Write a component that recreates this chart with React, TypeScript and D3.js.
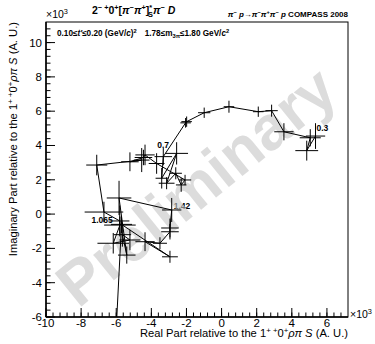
import React from 'react';
import * as d3 from 'd3';

// Argand points (units of 10^3), in order of increasing m(pi pi)
const rePart = [5.35, 4.85, 5.05, 3.55, 2.85, 2.09, 0.42, -0.99, -1.99, -2.05, -3.32, -3.41, -2.56, -3.13, -2.61, -2.3, -2.08, -3.7, -4.36, -4.45, -5.22, -4.55, -7.11, -6.7, -5.8, -5.79, -6.17, -5.22, -5.65, -5.4, -5.84, -2.84, -2.94, -2.94, -3.51, -4.36, -2.94, -5.7, -6.04];
const imPart = [4.55, 3.7, 4.45, 4.8, 6.03, 5.97, 6.26, 5.91, 5.39, 5.32, 3.35, 2.09, 3.54, 1.8, 2.38, 1.7, 1.99, 2.95, 3.45, 3.3, 3.05, 3.15, 2.86, 0.12, -0.4, -0.64, -1.7, -1.51, -1.2, -2.39, 0.94, 0.24, -0.81, -1.03, -1.7, -1.61, -2.49, -0.6, -7.5];
const reErr = [0.55, 0.65, 0.6, 0.55, 0.35, 0.3, 0.3, 0.35, 0.3, 0.3, 0.5, 0.35, 0.65, 0.45, 0.35, 0.3, 0.35, 0.45, 0.55, 0.5, 0.5, 0.45, 0.6, 1.1, 0.55, 0.9, 0.9, 0.6, 0.5, 0.5, 0.7, 0.55, 0.5, 0.5, 0.4, 0.55, 0.45, 0.6, 0.5];
const imErr = [0.75, 0.58, 0.5, 0.5, 0.35, 0.3, 0.35, 0.3, 0.3, 0.28, 0.5, 0.6, 0.65, 0.35, 0.35, 0.4, 0.3, 0.6, 0.6, 0.45, 0.55, 0.7, 0.6, 0.6, 0.9, 0.5, 0.6, 0.6, 0.7, 0.5, 1.0, 0.7, 0.55, 0.45, 0.35, 0.55, 0.35, 0.5, 0.5];

// mass labels attached to points
const massLabels = [
  { idx: 0, text: '0.3', dx: 1, dy: -5, anchor: 'start' },
  { idx: 10, text: '0.7', dx: -6, dy: -9, anchor: 'start' },
  { idx: 24, text: '1.065', dx: -7, dy: 2, anchor: 'end' },
  { idx: 31, text: '1.42', dx: 2, dy: -1, anchor: 'start' },
];

const xTicks = [-10, -8, -6, -4, -2, 0, 2, 4, 6];
const yTicks = [-6, -4, -2, 0, 2, 4, 6, 8, 10];

const W = 375;
const H = 344;
const FONT = 'Liberation Sans, Arial, Helvetica, sans-serif';

type Seg = { t: string; v?: 'sup' | 'sub'; it?: boolean; dx?: number };

function Rich({ segs, fs, x, y, anchor, weight, transform }: { segs: Seg[]; fs: number; x?: number; y?: number; anchor?: string; weight?: string; transform?: string }) {
  let prev = 0;
  const parts = segs.map((s, i) => {
    const off = s.v === 'sup' ? -0.4 * fs : s.v === 'sub' ? 0.28 * fs : 0;
    const dy = off - prev;
    prev = off;
    return (
      <tspan key={i} dy={dy} dx={s.dx} fontSize={s.v ? fs * 0.7 : fs} fontStyle={s.it ? 'italic' : undefined}>
        {s.t}
      </tspan>
    );
  });
  return (
    <text x={x} y={y} fontSize={fs} fontFamily={FONT} fontWeight={weight} textAnchor={anchor} transform={transform}>
      {parts}
    </text>
  );
}

export default function App() {
  const x = d3.scaleLinear().domain([-10, 7.2]).range([46, 348]);
  const y = d3.scaleLinear().domain([-6, 11.2]).range([317, 22]);
  const [x0, x1] = x.range();
  const [y0, y1] = y.range();

  const xMinor = d3.range(-10, 7.2, 0.4);
  const yMinor = d3.range(-6, 11.2, 0.4);

  const pts = rePart.map((r, i) => [r, imPart[i]] as [number, number]);
  const line = d3.line<[number, number]>().x((d) => x(d[0])).y((d) => y(d[1]));

  return (
    <svg width={W} height={H} style={{ position: 'fixed', left: 0, top: 0, background: 'white' }}>
      <defs>
        <clipPath id="frame">
          <rect x={x0} y={y1} width={x1 - x0} height={y0 - y1} />
        </clipPath>
      </defs>
      <rect width={W} height={H} fill="white" />

      {/* mass labels */}
      {massLabels.map((l) => (
        <text key={l.text} x={x(rePart[l.idx]) + l.dx} y={y(imPart[l.idx]) + l.dy} fontSize={8.5} fontWeight="bold" fontFamily={FONT} textAnchor={l.anchor}>
          {l.text}
        </text>
      ))}

      {/* watermark */}
      <text
        x={0}
        y={0}
        transform="translate(196,186) rotate(-39)"
        textAnchor="middle"
        dominantBaseline="central"
        fontSize={62}
        fontWeight="bold"
        fontFamily={FONT}
        fill="#c6c6c6"
        opacity={0.6}
      >
        Preliminary
      </text>

      {/* data */}
      <g clipPath="url(#frame)">
        <path d={line(pts) || ''} fill="none" stroke="black" strokeWidth={1} />
        {pts.map((p, i) => (
          <g key={i} stroke="black" strokeWidth={1}>
            <line x1={x(p[0] - reErr[i])} x2={x(p[0] + reErr[i])} y1={y(p[1])} y2={y(p[1])} />
            <line x1={x(p[0])} x2={x(p[0])} y1={y(p[1] - imErr[i])} y2={y(p[1] + imErr[i])} />
          </g>
        ))}
      </g>

      {/* frame */}
      <rect x={x0} y={y1} width={x1 - x0} height={y0 - y1} fill="none" stroke="black" strokeWidth={1} />
      <line x1={x0} x2={x1} y1={y0} y2={y0} stroke="black" strokeWidth={1.5} />
      <line x1={x0} x2={x0} y1={y0} y2={y1} stroke="black" strokeWidth={1.5} />

      {/* x ticks */}
      {xMinor.map((t, i) => (
        <line key={'xm' + i} x1={x(t)} x2={x(t)} y1={y0} y2={y0 - 4.5} stroke="black" strokeWidth={1} />
      ))}
      {xTicks.map((t) => (
        <g key={'x' + t}>
          <line x1={x(t)} x2={x(t)} y1={y0} y2={y0 - 9} stroke="black" strokeWidth={1} />
          <text x={x(t)} y={327} fontSize={11.5} fontFamily={FONT} textAnchor="middle">
            {t}
          </text>
        </g>
      ))}

      {/* y ticks */}
      {yMinor.map((t, i) => (
        <line key={'ym' + i} x1={x0} x2={x0 + 4.5} y1={y(t)} y2={y(t)} stroke="black" strokeWidth={1} />
      ))}
      {yTicks.map((t) => (
        <g key={'y' + t}>
          <line x1={x0} x2={x0 + 9} y1={y(t)} y2={y(t)} stroke="black" strokeWidth={1} />
          <text x={42} y={y(t) + 4} fontSize={11.5} fontFamily={FONT} textAnchor="end">
            {t}
          </text>
        </g>
      ))}

      {/* exponents */}
      <Rich x={46} y={18} fs={10.5} segs={[{ t: '×10' }, { t: '3', v: 'sup' }]} />
      <Rich x={350} y={318} fs={10.5} segs={[{ t: '×10' }, { t: '3', v: 'sup' }]} />

      {/* axis titles */}
      <Rich
        x={348}
        y={337}
        fs={11.2}
        anchor="end"
        segs={[{ t: 'Real Part relative to the 1' }, { t: '+ +', v: 'sup' }, { t: '0' }, { t: '+', v: 'sup' }, { t: 'ρπ', it: true }, { t: ' ' }, { t: 'S', it: true }, { t: ' (A. U.)' }]}
      />
      <Rich
        x={0}
        y={0}
        transform="translate(17,22) rotate(-90)"
        fs={11.2}
        anchor="end"
        segs={[{ t: 'Imaginary Part relative to the 1' }, { t: '+ +', v: 'sup' }, { t: '0' }, { t: '+', v: 'sup' }, { t: 'ρπ', it: true }, { t: ' ' }, { t: 'S', it: true }, { t: ' (A. U.)' }]}
      />

      {/* headers */}
      <Rich
        x={92}
        y={14}
        fs={10.5}
        weight="bold"
        segs={[
          { t: '2' },
          { t: '− +', v: 'sup' },
          { t: '0' },
          { t: '+', v: 'sup' },
          { t: '[' },
          { t: 'π', it: true },
          { t: '−', v: 'sup' },
          { t: 'π', it: true },
          { t: '+', v: 'sup' },
          { t: ']' },
          { t: '*', v: 'sup' },
          { t: 'S', v: 'sub', dx: -4 },
          { t: 'π', it: true },
          { t: '−', v: 'sup' },
          { t: ' ' },
          { t: 'D', it: true },
        ]}
      />
      <Rich
        x={348}
        y={17}
        fs={8}
        weight="bold"
        anchor="end"
        segs={[
          { t: 'π', it: true },
          { t: '−', v: 'sup' },
          { t: ' p', it: true },
          { t: '→' },
          { t: 'π', it: true },
          { t: '−', v: 'sup' },
          { t: 'π', it: true },
          { t: '+', v: 'sup' },
          { t: 'π', it: true },
          { t: '−', v: 'sup' },
          { t: ' p', it: true },
          { t: ' COMPASS 2008' },
        ]}
      />
      <Rich
        x={57}
        y={36}
        fs={8.2}
        weight="bold"
        segs={[
          { t: '0.10≤' },
          { t: "t'", it: true },
          { t: '≤0.20 (GeV/' },
          { t: 'c', it: true },
          { t: ')' },
          { t: '2', v: 'sup' },
          { t: '1.78≤m', dx: 8 },
          { t: '3π', v: 'sub' },
          { t: '≤1.80 GeV/' },
          { t: 'c', it: true },
          { t: '2', v: 'sup' },
        ]}
      />
    </svg>
  );
}
